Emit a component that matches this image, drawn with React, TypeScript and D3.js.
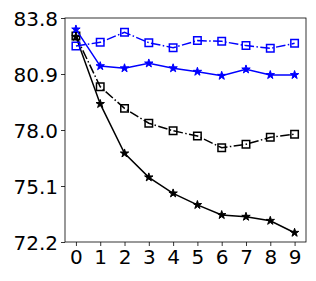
import React, { useEffect, useRef } from 'react';
import * as d3 from 'd3';

const steps = [0, 1, 2, 3, 4, 5, 6, 7, 8, 9];
const yTicks = [72.2, 75.1, 78.0, 80.9, 83.8];

const blueSquares = [82.35, 82.54, 83.06, 82.52, 82.26, 82.63, 82.59, 82.37, 82.23, 82.49];
const blueStars = [83.21, 81.31, 81.2, 81.45, 81.2, 81.02, 80.81, 81.14, 80.85, 80.85];
const blackSquares = [82.87, 80.24, 79.12, 78.35, 77.96, 77.69, 77.08, 77.26, 77.62, 77.78];
const blackStars = [82.83, 79.35, 76.79, 75.55, 74.72, 74.12, 73.6, 73.51, 73.3, 72.68];

const series = [
  { values: blackStars, color: '#000000', marker: 'star', dash: null },
  { values: blackSquares, color: '#000000', marker: 'square', dash: '9.6,2.4,1.5,2.4' },
  { values: blueSquares, color: '#0000ff', marker: 'square', dash: '9.6,2.4,1.5,2.4' },
  { values: blueStars, color: '#0000ff', marker: 'star', dash: null },
];

const W = 316;
const H = 281;

const App: React.FC = () => {
  const svgRef = useRef<SVGSVGElement>(null);

  useEffect(() => {
    if (!svgRef.current) return;
    const margin = { top: 18, right: 10, bottom: 39, left: 65 };
    const width = W - margin.left - margin.right;
    const height = H - margin.top - margin.bottom;

    d3.select(svgRef.current).selectAll('*').remove();

    const svg = d3.select(svgRef.current)
      .append('g')
      .attr('transform', `translate(${margin.left},${margin.top})`);

    const x = d3.scaleLinear().domain([-0.45, 9.47]).range([0, width]);
    const y = d3.scaleLinear().domain([72.2, 83.8]).range([height, 0]);

    // axes
    const xAxis = svg.append('g')
      .attr('transform', `translate(0,${height})`)
      .call(d3.axisBottom(x).tickValues(steps).tickFormat(d3.format('d')).tickSize(4).tickPadding(4));
    const yAxis = svg.append('g')
      .call(d3.axisLeft(y).tickValues(yTicks).tickFormat(d3.format('.1f')).tickSize(4).tickPadding(3));

    [xAxis, yAxis].forEach(a => {
      a.selectAll('text')
        .attr('fill', '#000')
        .style('font-family', 'DejaVu Sans')
        .style('font-size', '20px');
      a.selectAll('.tick line').attr('stroke', '#000').attr('stroke-width', 0.8);
      a.select('.domain').remove();
    });
    yAxis.selectAll('text').attr('dy', '0.36em');

    // frame
    svg.append('rect')
      .attr('width', width)
      .attr('height', height)
      .attr('fill', 'none')
      .attr('stroke', '#000')
      .attr('stroke-width', 0.8);

    const line = d3.line<number>()
      .x((_, i) => x(steps[i]))
      .y(d => y(d));

    const star = d3.symbol().type(d3.symbolStar).size(22);
    const square = d3.symbol().type(d3.symbolSquare).size(56);

    series.forEach(s => {
      const path = svg.append('path')
        .datum(s.values)
        .attr('d', line)
        .attr('fill', 'none')
        .attr('stroke', s.color)
        .attr('stroke-width', 1.5);
      if (s.dash) path.attr('stroke-dasharray', s.dash);

      svg.selectAll(null)
        .data(s.values)
        .enter()
        .append('path')
        .attr('transform', (d, i) => `translate(${x(steps[i])},${y(d)})`)
        .attr('d', s.marker === 'star' ? star() : square())
        .attr('fill', s.marker === 'star' ? s.color : 'none')
        .attr('stroke', s.color)
        .attr('stroke-width', s.marker === 'star' ? 1 : 1.5)
        .attr('stroke-linejoin', 'miter');
    });
  }, []);

  return (
    <svg
      ref={svgRef}
      width={W}
      height={H}
      style={{ position: 'absolute', left: 0, top: 0, background: '#fff' }}
    ></svg>
  );
};

export default App;
